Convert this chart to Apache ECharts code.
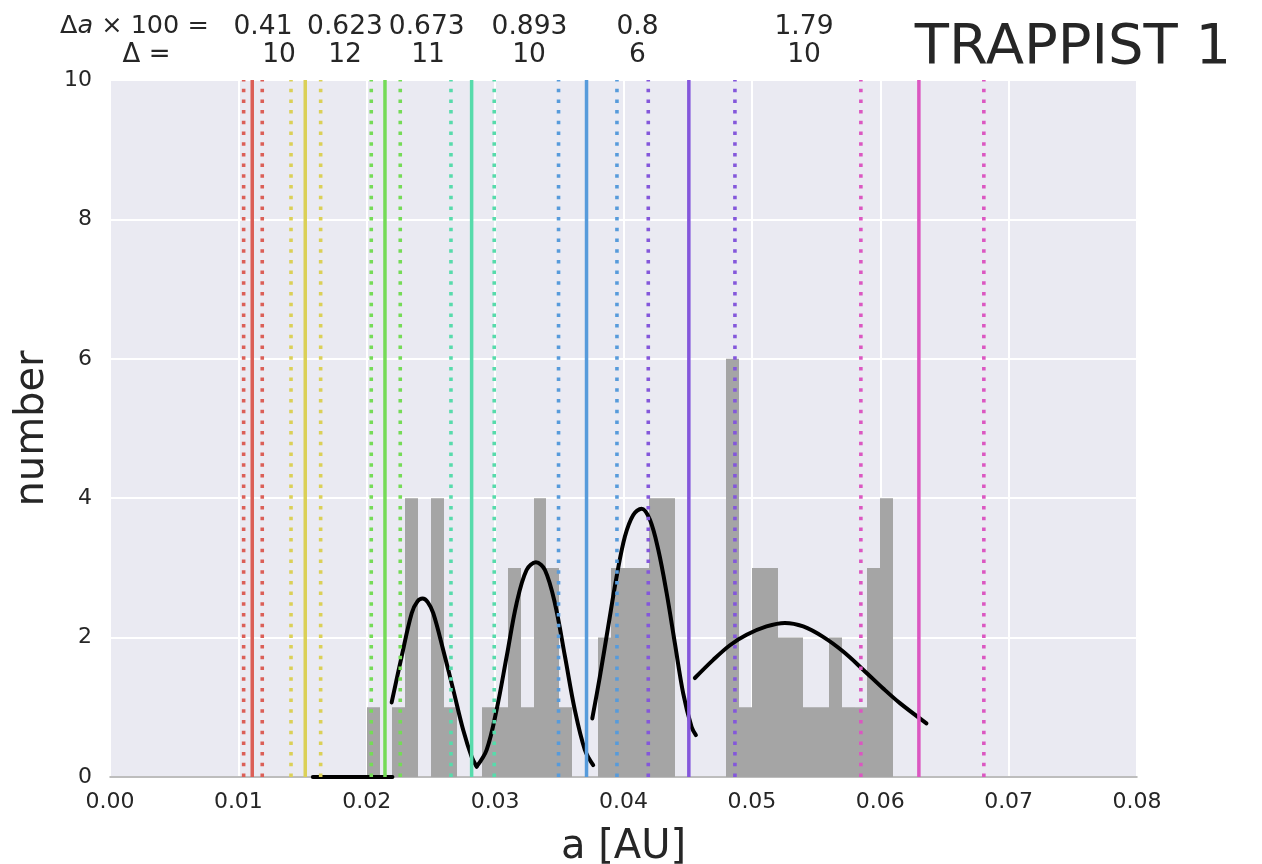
<!DOCTYPE html>
<html>
<head>
<meta charset="utf-8">
<script src="https://cdn.jsdelivr.net/npm/echarts@6/dist/echarts.min.js"></script>
<style>
html,body{margin:0;padding:0;background:#fff;}
#chart{width:1262px;height:864px;}
</style>
</head>
<body>
<div id="chart"></div>
<script>
// ---------------- data ----------------
const xTicks = [0, 0.01, 0.02, 0.03, 0.04, 0.05, 0.06, 0.07, 0.08];
const yTicks = [0, 2, 4, 6, 8, 10];
const binWidth = 0.001;
const binLeft = [0.020,0.021,0.022,0.023,0.024,0.025,0.026,0.027,0.028,0.029,
                 0.030,0.031,0.032,0.033,0.034,0.035,0.036,0.037,0.038,0.039,
                 0.040,0.041,0.042,0.043,0.044,0.045,0.046,0.047,0.048,0.049,
                 0.050,0.051,0.052,0.053,0.054,0.055,0.056,0.057,0.058,0.059,0.060];
const binCount = [1,0,1,4,0,4,1,0,0,1,
                  1,3,1,4,3,1,0,0,2,3,
                  3,3,4,4,0,0,0,0,6,1,
                  3,3,2,2,1,1,2,1,1,3,4];

const planetA = [0.01108, 0.01521, 0.02142, 0.02817, 0.03712, 0.04509, 0.06301];
const dotLow  = [0.01041, 0.01410, 0.02035, 0.02656, 0.03494, 0.04193, 0.05849];
const dotHigh = [0.01186, 0.01641, 0.02261, 0.02993, 0.03949, 0.04868, 0.06807];
const planetColors = ['#db5f57','#dbd057','#75db57','#57dbab','#579bdb','#8457db','#db57c1'];

const flatCurve = [[0.0158,0],[0.0220,0]];
const curve1 = [[0.02194,1.07],[0.02272,1.73],[0.0235,2.35],[0.02395,2.52],[0.02435,2.56],[0.02475,2.51],[0.02518,2.35],
                [0.02596,1.82],[0.02674,1.25],[0.02752,0.67],[0.02817,0.29],[0.02856,0.15]];
const curve2 = [[0.02856,0.15],[0.02934,0.39],[0.03011,0.96],[0.0309,1.73],[0.03167,2.49],[0.03245,2.97],[0.03318,3.08],
                [0.03388,2.97],[0.03466,2.49],[0.03544,1.73],[0.03621,0.96],[0.03699,0.39],[0.03764,0.17]];
const curve3 = [[0.03757,0.84],[0.03816,1.44],[0.03881,2.16],[0.03946,2.87],[0.04011,3.45],[0.04076,3.76],[0.04141,3.85],
                [0.04206,3.69],[0.04271,3.26],[0.04336,2.64],[0.044,1.92],[0.04465,1.2],[0.0453,0.72],[0.04564,0.6]];
const curve4 = [[0.04556,1.42],[0.04699,1.68],[0.04829,1.89],[0.04959,2.04],[0.05114,2.16],[0.05257,2.21],[0.054,2.16],
                [0.05555,2.01],[0.05711,1.8],[0.05867,1.54],[0.06023,1.27],[0.06153,1.06],[0.0636,0.77]];

const deltaA = ['0.41','0.623','0.673','0.893','0.8','1.79'];
const deltaN = ['10','12','11','10','6','10'];

// ---------------- chart ----------------
const FONT = 'DejaVu Sans';
const chart = echarts.init(document.getElementById('chart'), null, {renderer:'canvas'});

const series = [];
series.push({
  type:'custom', z:1,
  renderItem:function(params, api){
    const x0 = api.value(0), h = api.value(1);
    const p0 = api.coord([x0, h]);
    const p1 = api.coord([x0 + binWidth, 0]);
    const xa = Math.round(p0[0]), xb = Math.round(p1[0]);
    return {type:'rect', shape:{x:xa, y:p0[1], width:xb-xa, height:p1[1]-p0[1]},
            style:{fill:'#a5a5a5'}};
  },
  data: binLeft.map((x,i)=>[x, binCount[i]])
});
[flatCurve, curve1, curve2, curve3, curve4].forEach(c=>{
  series.push({type:'line', z:2, data:c, symbol:'none', smooth:0.35, silent:true,
    lineStyle:{color:'#000', width:4, cap:'round'}});
});
planetA.forEach((a,i)=>{
  series.push({type:'line', z:3, data:[[a,0],[a,10]], symbol:'none', silent:true,
    lineStyle:{color:planetColors[i], width:3.5}});
  [dotLow[i], dotHigh[i]].forEach(d=>{
    series.push({type:'line', z:3, data:[[d,0],[d,10]], symbol:'none', silent:true,
      lineStyle:{color:planetColors[i], width:3.6, type:[3.5,7.2], cap:'butt'}});
  });
});

const headX1 = [263, 345, 426.7, 529.5, 637.5, 804];
const headX2 = [279, 345, 428, 529, 637.5, 804];
const graphics = [
  {type:'text', left:60, top:13, style:{text:'{d|Δ}{i|a}{d| × 100 =}', rich:{
      d:{fontFamily:FONT, fontSize:25.5, fill:'#262626'},
      i:{fontFamily:FONT, fontSize:25.5, fontStyle:'italic', fill:'#262626'}}}},
  {type:'text', x:146.5, y:55, style:{text:'Δ =', fontFamily:FONT, fontSize:26, fill:'#262626', align:'center', verticalAlign:'middle'}},
  {type:'text', x:1073, y:48, style:{text:'TRAPPIST 1', fontFamily:FONT, fontSize:56, fill:'#262626', align:'center', verticalAlign:'middle'}}
];
deltaA.forEach((t,i)=>graphics.push({type:'text', x:headX1[i], y:27.5,
  style:{text:t, fontFamily:FONT, fontSize:26.5, fill:'#262626', align:'center', verticalAlign:'middle'}}));
deltaN.forEach((t,i)=>graphics.push({type:'text', x:headX2[i], y:55,
  style:{text:t, fontFamily:FONT, fontSize:26.5, fill:'#262626', align:'center', verticalAlign:'middle'}}));

chart.setOption({
  animation:false,
  backgroundColor:'#ffffff',
  textStyle:{fontFamily:FONT},
  grid:{left:110, right:125, top:80, bottom:87, show:true, backgroundColor:'#EAEAF2', borderWidth:0,
        containLabel:false, outerBoundsMode:'none'},
  xAxis:{type:'value', min:0, max:0.08, interval:0.01,
    name:'a [AU]', nameLocation:'middle', nameGap:51,
    nameTextStyle:{fontFamily:FONT, fontSize:40, color:'#262626'},
    axisLine:{show:true, lineStyle:{color:'#a8a8a8', width:1.5}},
    axisTick:{show:false},
    axisLabel:{fontFamily:FONT, fontSize:22, color:'#262626', margin:14, formatter:v=>v.toFixed(2)},
    splitLine:{show:true, lineStyle:{color:'#ffffff', width:2}}},
  yAxis:{type:'value', min:0, max:10, interval:2,
    name:'number', nameLocation:'middle', nameGap:54,
    nameTextStyle:{fontFamily:FONT, fontSize:40, color:'#262626'},
    axisLine:{show:false}, axisTick:{show:false},
    axisLabel:{fontFamily:FONT, fontSize:22, color:'#262626', margin:18},
    splitLine:{show:true, lineStyle:{color:'#ffffff', width:2}}},
  graphic:graphics,
  series:series
});
</script>
</body>
</html>
